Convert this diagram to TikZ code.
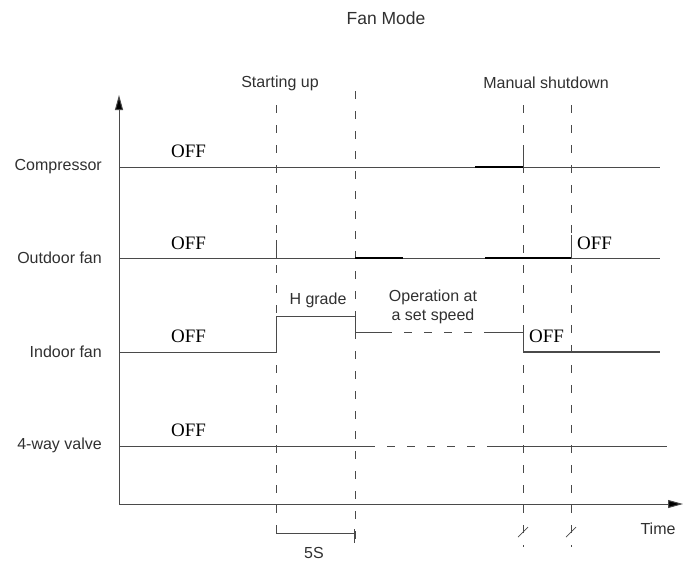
\documentclass[tikz,border=0pt]{standalone}
\usepackage{fontspec}
\setmainfont{Liberation Serif}
\setsansfont{Liberation Sans}
\usetikzlibrary{arrows.meta}
\definecolor{sigc}{HTML}{4A4A4A}
\definecolor{labc}{HTML}{303030}
\begin{document}
\begin{tikzpicture}[x=1pt,y=-1pt,
  sig/.style={line width=0.9pt, draw=sigc},
  hot/.style={line width=1.8pt, draw=black},
  vdash/.style={line width=0.8pt, dash pattern=on 8pt off 12pt, draw=sigc},
  hdash/.style={line width=0.9pt, dash pattern=on 8pt off 12pt, dash phase=8pt, draw=sigc},
  lab/.style={font=\sffamily\fontsize{16}{19}\selectfont, text=labc, inner sep=0pt},
  offlab/.style={font=\fontsize{19}{22}\selectfont, inner sep=0pt, anchor=base west},
  axisline/.style={line width=1pt, draw=sigc, -{Triangle[length=15pt,width=8pt,fill=black]}}]
\useasboundingbox (0,0) rectangle (683,565);

% title and event labels
\node[lab, font=\sffamily\fontsize{17.5}{20}\selectfont] (title) at (386,18) {Fan Mode};
\node[lab] (start) at (280,83) {Starting up};
\node[lab] (shut) at (546,83) {Manual shutdown};

% row labels
\node[lab, anchor=east] (lcomp) at (102,167) {Compressor};
\node[lab, anchor=east] (lout) at (102,258) {Outdoor fan};
\node[lab, anchor=east] (lin) at (102,352) {Indoor fan};
\node[lab, anchor=east] (lvalve) at (102,445) {4-way valve};

% axes
\coordinate (O) at (119,504);
\coordinate (ytip) at (119,95);
\coordinate (xtip) at (683,504);
\draw[axisline] (O) -- (ytip);
\draw[axisline] (O) -- (xtip);
\node[lab] (time) at (658,529) {Time};

% vertical dashed event lines
\coordinate (a1) at (276,105); \coordinate (a2) at (276,543);
\coordinate (b1) at (355,91);  \coordinate (b2) at (355,543);
\coordinate (c1) at (523,105); \coordinate (c2) at (523,547);
\coordinate (d1) at (571,105); \coordinate (d2) at (571,547);
\draw[vdash] (a1) -- (a2);
\draw[vdash] (b1) -- (b2);
\draw[vdash] (c1) -- (c2);
\draw[vdash] (d1) -- (d2);

% break slashes
\coordinate (s1a) at (518,537); \coordinate (s1b) at (528,527);
\coordinate (s2a) at (566,537); \coordinate (s2b) at (576,527);
\draw[sig, line width=0.7pt] (s1a) -- (s1b);
\draw[sig, line width=0.7pt] (s2a) -- (s2b);

% 5S bracket
\coordinate (k1) at (276,533); \coordinate (k2) at (354,533);
\coordinate (k3) at (354,529); \coordinate (k4) at (354,543);
\draw[sig] (k1) -- (k2);
\draw[sig] (k3) -- (k4);
\node[lab] (fives) at (314,553) {5S};

% Compressor
\coordinate (c0) at (119,167); \coordinate (cE) at (660,167);
\coordinate (cT1) at (475,167); \coordinate (cT2) at (523,167); \coordinate (cT3) at (523,145);
\draw[sig] (c0) -- (cE);
\draw[hot] (cT1) -- (cT2);
\draw[sig] (cT2) -- (cT3);
\node[offlab] (off1) at (171,157) {OFF};

% Outdoor fan
\coordinate (o0) at (119,258); \coordinate (oE) at (660,258);
\coordinate (oA) at (276,258); \coordinate (oA2) at (276,240);
\coordinate (oH1) at (355,258); \coordinate (oH2) at (403,258);
\coordinate (oH3) at (485,258); \coordinate (oH4) at (571,258);
\coordinate (oV) at (571,235);
\draw[sig] (o0) -- (oE);
\draw[sig] (oA) -- (oA2);
\draw[hot] (oH1) -- (oH2);
\draw[hot] (oH3) -- (oH4);
\draw[sig] (oH4) -- (oV);
\node[offlab] (off2) at (171,249) {OFF};
\node[offlab] (off3) at (577,249) {OFF};

% Indoor fan
\coordinate (i0) at (119,352); \coordinate (i1) at (276,352);
\coordinate (i2) at (276,316); \coordinate (i3) at (355,316);
\coordinate (i4) at (355,332); \coordinate (i5) at (392,332);
\coordinate (i6) at (488,332); \coordinate (i7) at (523,332);
\coordinate (i8) at (523,352); \coordinate (i9) at (660,352);
\draw[sig] (i0) -- (i1) -- (i2) -- (i3) -- (i4) -- (i5);
\draw[hdash] (i5) -- (i6);
\draw[sig] (i6) -- (i7) -- (i8);
\draw[sig, line width=1.4pt] (i8) -- (i9);
\node[offlab] (off4) at (171,342) {OFF};
\node[offlab] (off5) at (529,342) {OFF};
\node[lab] (hgrade) at (318,300) {H grade};
\node[lab, align=center, font=\sffamily\fontsize{16}{19}\selectfont] (oper) at (433,307) {Operation at\\a set speed};

% 4-way valve
\coordinate (v0) at (119,446); \coordinate (v1) at (375,446);
\coordinate (v2) at (487,446); \coordinate (v3) at (667,446);
\draw[sig] (v0) -- (v1);
\draw[hdash] (v1) -- (v2);
\draw[sig] (v2) -- (v3);
\node[offlab] (off6) at (171,436) {OFF};
\end{tikzpicture}
\end{document}
